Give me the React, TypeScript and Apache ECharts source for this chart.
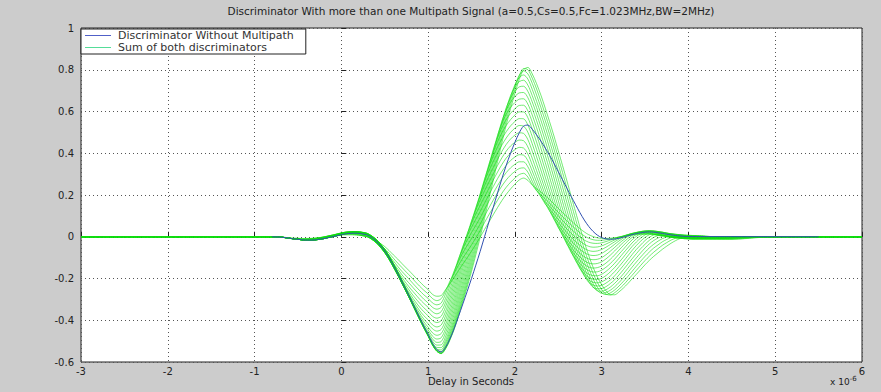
import React, { useEffect, useRef } from "react";
import * as echarts from "echarts";

const titleText =
  "Discriminator With more than one Multipath Signal (a=0.5,Cs=0.5,Fc=1.023MHz,BW=2MHz)";
const xAxisTitle = "Delay in Seconds";
const xScaleNote = "x 10";
const xScaleExp = "-6";
const legendNames = ["Discriminator Without Multipath", "Sum of both discriminators"];

// x axis range (microseconds) and tick step
const xMin = -3;
const xMax = 6;
const xStep = 1;
const yMin = -0.6;
const yMax = 1;
const yStep = 0.2;

// Discriminator without multipath, every 0.05 us from -0.8 us
const discriminatorStart = -0.8;
const sampleStep = 0.05;
const discriminatorValues = [
  0.0, -0.001, -0.002, -0.004, -0.007, -0.01, -0.012, -0.015, -0.016, -0.016,
  -0.015, -0.012, -0.009, -0.004, 0.0, 0.005, 0.01, 0.014, 0.016, 0.017,
  0.016, 0.013, 0.008, -0.004, -0.02, -0.042, -0.068, -0.1, -0.137, -0.176,
  -0.217, -0.258, -0.3, -0.343, -0.386, -0.428, -0.467, -0.51, -0.54, -0.552,
  -0.53, -0.49, -0.44, -0.382, -0.322, -0.262, -0.2, -0.136, -0.07, 0.0,
  0.07, 0.14, 0.21, 0.278, 0.342, 0.4, 0.452, 0.498, 0.53, 0.535,
  0.515, 0.488, 0.458, 0.425, 0.39, 0.352, 0.312, 0.272, 0.232, 0.192,
  0.153, 0.115, 0.08, 0.05, 0.026, 0.008, -0.004, -0.01, -0.012, -0.011,
  -0.007, -0.002, 0.004, 0.01, 0.015, 0.019, 0.022, 0.023, 0.022, 0.019,
  0.016, 0.012, 0.009, 0.006, 0.004, 0.002, 0.001,
];
const discriminatorEnd = 5.5;

// Multipath: reflected amplitude (a = 0.5, opposite phase) and the delays of the fan of curves
const multipathAmplitude = -0.5;
const multipathDelays = [
  0.05, 0.1, 0.15, 0.2, 0.25, 0.3, 0.35, 0.4, 0.45, 0.5,
  0.55, 0.6, 0.65, 0.7, 0.75, 0.8, 0.85, 0.9, 0.95, 1.0,
];

const r2 = (v: number) => Math.round(v * 1000) / 1000;

function discAt(t: number): number {
  const idx = Math.round((t - discriminatorStart) / sampleStep);
  if (idx < 0 || idx >= discriminatorValues.length) return 0;
  return discriminatorValues[idx];
}

export default function App() {
  const ref = useRef<HTMLDivElement>(null);

  useEffect(() => {
    if (!ref.current) return;
    const chart = echarts.init(ref.current, undefined, { renderer: "svg" });

    const blueData: [number, number][] = discriminatorValues.map((v, i) => [
      r2(discriminatorStart + i * sampleStep),
      v,
    ]);
    blueData.push([discriminatorEnd, 0]);

    const nSamples = Math.round((xMax - xMin) / sampleStep);
    const greenSeries = multipathDelays.map((d) => {
      const data: [number, number][] = [];
      for (let i = 0; i <= nSamples; i++) {
        const t = r2(xMin + i * sampleStep);
        data.push([t, r2(discAt(t) + multipathAmplitude * discAt(r2(t - d)))]);
      }
      return {
        name: legendNames[1],
        type: "line",
        data,
        symbol: "none",
        smooth: 0.3,
        color: "#11dd11",
        lineStyle: { width: 0.7, color: "#11dd11", opacity: 0.85 },
        z: 2,
      };
    });

    const font = "DejaVu Sans";

    chart.setOption({
      animation: false,
      backgroundColor: "#cccccc",
      grid: {
        left: 81,
        right: 19,
        top: 28,
        bottom: 30,
        show: true,
        backgroundColor: "#ffffff",
        borderColor: "#222",
        borderWidth: 1,
      },
      legend: {
        data: [
          { name: legendNames[0], itemStyle: { color: "#5060c8" } },
          { name: legendNames[1], itemStyle: { color: "#55dd99" } },
        ],
        icon: "rect",
        orient: "vertical",
        left: 81,
        top: 29,
        itemWidth: 26,
        itemHeight: 1,
        itemGap: 1,
        padding: [1, 12, 1, 4],
        backgroundColor: "#fff",
        borderColor: "#222",
        borderWidth: 1,
        textStyle: {
          fontFamily: font,
          fontSize: 11,
          lineHeight: 10,
          color: "#333",
          padding: [0, 0, 0, 2],
        },
      },
      xAxis: {
        type: "value",
        min: xMin,
        max: xMax,
        interval: xStep,
        axisLine: { show: false },
        axisTick: { show: true, inside: true, length: 5, lineStyle: { color: "#222" } },
        axisLabel: { fontFamily: font, fontSize: 10, color: "#222", margin: 4 },
        splitLine: { show: true, lineStyle: { color: "#555", type: [1, 3], width: 1 } },
      },
      yAxis: {
        type: "value",
        min: yMin,
        max: yMax,
        interval: yStep,
        axisLine: { show: false },
        axisTick: { show: true, inside: true, length: 5, lineStyle: { color: "#222" } },
        axisLabel: {
          fontFamily: font,
          fontSize: 10,
          color: "#222",
          margin: 7,
          formatter: (v: number) => String(Number(v.toFixed(1))),
        },
        splitLine: { show: true, lineStyle: { color: "#555", type: [1, 3], width: 1 } },
      },
      graphic: [
        {
          type: "text",
          x: 471,
          y: 11,
          style: {
            text: titleText,
            fontFamily: font,
            fontSize: 10.5,
            fill: "#222",
            align: "center",
            verticalAlign: "middle",
          },
        },
        {
          type: "text",
          x: 471,
          y: 381,
          style: {
            text: xAxisTitle,
            fontFamily: font,
            fontSize: 10,
            fill: "#222",
            align: "center",
            verticalAlign: "middle",
          },
        },
        {
          type: "text",
          x: 830,
          y: 372,
          style: {
            text: "{b|" + xScaleNote + "}{s|" + xScaleExp + "}",
            rich: {
              b: { fontFamily: font, fontSize: 9, fill: "#222", padding: [5, 0, 0, 0] },
              s: { fontFamily: font, fontSize: 7, fill: "#222" },
            },
          },
        },
      ],
      series: [
        ...greenSeries,
        {
          name: legendNames[0],
          type: "line",
          data: blueData,
          symbol: "none",
          smooth: 0.3,
          color: "#3050b0",
          lineStyle: { width: 1, color: "#3050b0" },
          z: 5,
        },
      ],
    });

    return () => chart.dispose();
  }, []);

  return (
    <div
      ref={ref}
      style={{ position: "absolute", left: 0, top: 0, width: 881, height: 392 }}
    />
  );
}
